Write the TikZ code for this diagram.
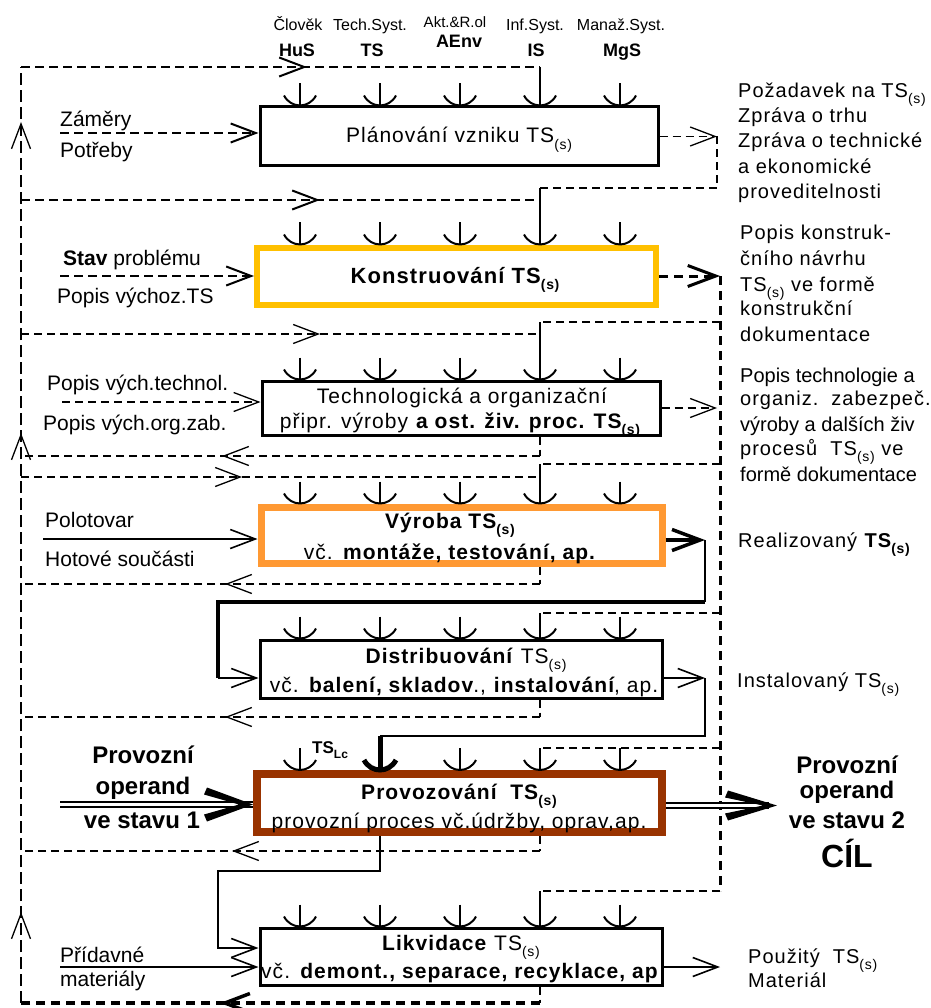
\documentclass[tikz,border=0pt]{standalone}
\usepackage{fontspec}
\setmainfont{Liberation Sans}
\newfontfamily\spaced{Liberation Sans}[LetterSpace=5]
\usetikzlibrary{arrows.meta,decorations.markings}

\definecolor{konsC}{HTML}{FFC000}
\definecolor{vyrC}{HTML}{FF9933}
\definecolor{provC}{HTML}{993300}

\newcommand\fs[1]{\fontsize{#1}{#1}\selectfont}
\newcommand\lowidx[1]{\raisebox{-0.3em}{\fontsize{14}{14}\selectfont #1}}
\newcommand\TSs{TS\lowidx{(s)}}

\tikzset{
  barbtip/.tip={Straight Barb[length=25pt,width=19pt]},
  bigbarb/.tip={Straight Barb[length=28pt,width=21pt]},
  procbox/.style={draw, rectangle, inner sep=0pt, line width=3pt},
  dthin/.style={line width=1.3pt, dash pattern=on 8pt off 5pt},
  dmed/.style={line width=2pt, dash pattern=on 9pt off 5pt},
  dthick/.style={line width=3pt, dash pattern=on 9pt off 6pt},
  dbus/.style={line width=1.3pt, dash pattern=on 12pt off 5pt},
  dbot/.style={line width=3.5pt, dash pattern=on 9pt off 6pt},
  solidc/.style={line width=1.6pt},
  arrat/.style={postaction={decorate},
    decoration={markings, mark=at position #1 with {\arrow{barbtip}}}},
  mechline/.style={line width=2pt},
  pics/mech/.style={code={
    \draw[mechline] (0,-22) -- (0,0);
    \draw[mechline] (-16,-10) .. controls (-9,3.3) and (9,3.3) .. (16,-10);}},
  ctr/.style={anchor=base, inner sep=0pt},
  ll/.style={anchor=base west, inner sep=0pt, font=\fs{21}},
  rl/.style={anchor=base west, inner sep=0pt, font=\spaced\fs{20}},
  top/.style={anchor=base, inner sep=0pt, font=\fs{16}},
  topb/.style={anchor=base, inner sep=0pt, font=\bfseries\fs{18}},
  big/.style={anchor=base, inner sep=0pt, font=\bfseries\fs{24}},
  bx/.style={font=\spaced\fs{21}},
}

\begin{document}
\begin{tikzpicture}[x=1pt,y=-1pt]
\fill[white] (0,0) rectangle (930,1008);
\useasboundingbox (0,0) rectangle (930,1008);

% process boxes
\node[procbox, minimum width=398pt, minimum height=59pt] (plan) at (459,136.5) {};
\node[procbox, draw=konsC, line width=6pt, minimum width=399pt, minimum height=57pt] (kons) at (456.5,276) {};
\node[procbox, minimum width=398pt, minimum height=54pt] (tech) at (461,408) {};
\node[procbox, draw=vyrC, line width=7pt, minimum width=401pt, minimum height=56pt] (vyr) at (461.5,535) {};
\node[procbox, minimum width=402pt, minimum height=58pt] (dist) at (461,669) {};
\node[procbox, draw=provC, line width=8pt, minimum width=405pt, minimum height=58pt] (prov) at (459.5,803) {};
\node[procbox, minimum width=402pt, minimum height=57pt] (likv) at (461,956.5) {};

% texts inside the boxes
\node[ctr, bx] (tplan) at (459,143) {Plánování vzniku \TSs};
\node[ctr, bx, font=\spaced\bfseries\fs{22}] (tkons) at (455,283) {Konstruování \TSs};
\node[ctr, bx] (ttech1) at (462,403) {Technologická a organizační};
\node[ctr, bx] (ttech2) at (460,428) {připr. výroby \textbf{a ost. živ. proc. \TSs}};
\node[ctr, bx] (tvyr1) at (450,528) {\textbf{Výroba \TSs}};
\node[ctr, bx] (tvyr2) at (450,559) {vč. \textbf{montáže, testování, ap.}};
\node[ctr, bx] (tdist1) at (466,663) {\textbf{Distribuování} \TSs};
\node[ctr, bx] (tdist2) at (464,692) {vč. \textbf{balení, skladov}., \textbf{instalování}, ap.};
\node[ctr, bx] (tprov1) at (459,799) {\textbf{Provozování\ \ \TSs}};
\node[ctr, bx] (tprov2) at (459,828) {provozní proces vč.údržby, oprav,ap.};
\node[ctr, bx] (tlikv1) at (461,950) {\textbf{Likvidace} \TSs};
\node[ctr, bx] (tlikv2) at (460,978) {vč. \textbf{demont., separace, recyklace, ap}};

% resource headings
\node[top] (h1) at (298,31) {Člověk};
\node[topb] (h1b) at (297,57) {HuS};
\node[top] (h2) at (370,31) {Tech.Syst.};
\node[topb] (h2b) at (372,57) {TS};
\node[top, font=\fs{15}] (h3) at (455,28) {Akt.\&R.ol};
\node[topb] (h3b) at (459,48) {AEnv};
\node[top] (h4) at (535,31) {Inf.Syst.};
\node[topb] (h4b) at (536,57) {IS};
\node[top] (h5) at (621,31) {Manaž.Syst.};
\node[topb] (h5b) at (622,57) {MgS};

% mechanism marks above the boxes
\foreach \x in {300,380,460,540,620} {
  \pic at (\x,0 |- plan.north) {mech};
  \pic at (\x,0 |- kons.north) {mech};
  \pic at (\x,0 |- tech.north) {mech};
  \pic at (\x,0 |- vyr.north) {mech};
  \pic at (\x,0 |- dist.north) {mech};
  \pic at (\x,0 |- likv.north) {mech};
}
\foreach \x in {300,460,540,620} \pic at (\x,0 |- prov.north) {mech};
\pic[mechline/.style={line width=5pt}] at (380,0 |- prov.north) {mech};
\node[anchor=base west, inner sep=0pt, font=\bfseries\fs{17}] (tslc) at (312,753) {TS\lowidx{\fs{12}Lc}};

% left information bus
\coordinate (bT) at (21,67);
\coordinate (bB) at (21,1003);
\coordinate (bus) at (21,0);
\draw[dbus, postaction={decorate}, decoration={markings,
   mark=at position 91pt with {\arrow{barbtip}},
   mark=at position 570pt with {\arrow{barbtip}},
   mark=at position 881pt with {\arrow{barbtip}}}] (bB) -- (bT);

% planning
\draw[dmed, arrat=286pt] (bT) -- (540,67);
\draw[solidc] (540,67) -- (540,0 |- plan.north);
\draw[dmed, -barbtip] (60,133) -- (plan.west |- 0,133);
\draw[dthin, -barbtip] (plan.east) -- (717,136.5);
\draw[dthin] (717,136.5) -- (717,188) -- (540,188);
\draw[solidc] (540,188) -- (540,0 |- kons.north);
\draw[dmed, arrat=299pt] (bus |- 0,200) -- (540,200);
\node[ll] (lz1) at (60,127) {Záměry};
\node[ll] (lz2) at (60,158) {Potřeby};

% design
\draw[dmed, -barbtip] (60,276) -- (kons.west);
\node[ll] (ls1) at (63,265) {\textbf{Stav} problému};
\node[ll] (ls2) at (57,303) {Popis výchoz.TS};
\draw[dthick, -bigbarb] (kons.east) -- (720,276);
\draw[dthick] (720,276) -- (720,891);

% technological preparation
\draw[dthin] (720,322) -- (540,322);
\draw[solidc] (540,322) -- (540,0 |- tech.north);
\draw[dthin, arrat=299pt] (bus |- 0,334) -- (540,334);
\draw[dthin, -barbtip] (62,402) -- (tech.west |- 0,402);
\node[ll] (lt1) at (47,390) {Popis vých.technol.};
\node[ll] (lt2) at (43,430) {Popis vých.org.zab.};
\draw[dthin, -barbtip] (tech.east) -- (717,408);
\draw[dthin] (540,0 |- tech.south) -- (540,456);
\draw[dthin, arrat=318pt] (540,456) -- (bus |- 0,456);

% production
\draw[dthin] (720,464) -- (540,464);
\draw[solidc] (540,464) -- (540,0 |- vyr.north);
\draw[dthin, arrat=221pt] (bus |- 0,477) -- (540,477);
\draw[solidc, -barbtip] (43,539) -- (vyr.west |- 0,539);
\node[ll] (lv1) at (45,527) {Polotovar};
\node[ll] (lv2) at (45,566) {Hotové součásti};
\draw[line width=3.5pt, -bigbarb] (vyr.east |- 0,540) -- (705,540);
\draw[line width=2pt] (705,540) -- (705,602);
\draw[line width=3.5pt] (705,602) -- (218,602) -- (218,678);
\draw[solidc, -barbtip] (218,678) -- (dist.west |- 0,678);
\draw[dthin] (540,0 |- vyr.south) -- (540,584);
\draw[dthin, arrat=315pt] (540,584) -- (bus |- 0,584);

% distribution
\draw[dthin] (720,613) -- (540,613);
\draw[solidc] (540,613) -- (540,0 |- dist.north);
\draw[solidc, -barbtip] (dist.east |- 0,678) -- (705,678);
\draw[solidc] (705,678) -- (705,736) -- (380,736);
\draw[line width=5pt] (380,736) -- (380,0 |- prov.north);
\draw[dthin] (540,0 |- dist.south) -- (540,717);
\draw[dthin, arrat=315pt] (540,717) -- (bus |- 0,717);

% operation
\draw[dthin] (720,748) -- (540,748);
\draw[solidc] (540,748) -- (540,0 |- prov.north);
\draw[double, double distance=3pt, line width=1.8pt] (60,804.5) -- (prov.west |- 0,804.5);
\fill (prov.west |- 0,804.5) -- ++(-46,-17) -- ++(-3,7) -- ++(35,10) -- ++(-35,10) -- ++(3,7) -- cycle;
\node[big] (lp1) at (143,763) {Provozní};
\node[big] (lp2) at (143,794) {operand};
\node[big] (lp3) at (142,828) {ve stavu 1};
\coordinate (goal) at (777,805.5);
\draw[double, double distance=3pt, line width=1.8pt] (prov.east |- goal) -- ([xshift=-8pt]goal);
\fill (goal) -- ++(-49,-15) -- ++(-3,7) -- ++(38,8) -- ++(-38,8) -- ++(3,7) -- cycle;
\node[big] (rp1) at (847,773) {Provozní};
\node[big] (rp2) at (847,798) {operand};
\node[big] (rp3) at (847,828) {ve stavu 2};
\node[big, font=\bfseries\fs{32}] (rp4) at (847,867) {CÍL};
\draw[solidc, -barbtip] (380,0 |- prov.south) -- (380,871) -- (218,871) |- (likv.west |- 0,948);
\draw[dthin] (540,0 |- prov.south) -- (540,851);
\draw[dthin, arrat=308pt] (540,851) -- (bus |- 0,851);

% liquidation
\draw[dthin] (720,891) -- (540,891);
\draw[solidc] (540,891) -- (540,0 |- likv.north);
\draw[solidc, -barbtip] (60,967) -- (likv.west |- 0,967);
\node[ll] (lk1) at (60,962) {Přídavné};
\node[ll] (lk2) at (60,986) {materiály};
\draw[solidc, -barbtip] (likv.east |- 0,967) -- (720,967);
\draw[dthin] (540,0 |- likv.south) -- (540,1003);
\draw[dbot, arrat=320pt] (540,1003) -- (17,1003);

% output descriptions
\node[rl] (r1) at (738,98) {Požadavek na TS\lowidx{(s)}};
\node[rl] (r2) at (738,123) {Zpráva o trhu};
\node[rl] (r3) at (738,148) {Zpráva o technické};
\node[rl] (r4) at (738,174) {a ekonomické};
\node[rl] (r5) at (738,199) {proveditelnosti};
\node[rl] (r6) at (740,240) {Popis konstruk-};
\node[rl] (r7) at (740,265) {čního návrhu};
\node[rl] (r8) at (740,291) {TS\lowidx{(s)} ve formě};
\node[rl] (r9) at (740,315) {konstrukční};
\node[rl] (r10) at (740,341) {dokumentace};
\node[rl, font=\fs{20}] (r11) at (740,382) {Popis technologie a};
\node[rl] (r12) at (740,405) {organiz.\ \ zabezpeč.};
\node[rl, font=\fs{20}] (r13) at (740,431) {výroby a dalších živ};
\node[rl] (r14) at (740,455) {procesů\ \ TS\lowidx{(s)} ve};
\node[rl, font=\fs{20}] (r15) at (740,481) {formě dokumentace};
\node[rl] (r16) at (738,547) {Realizovaný \textbf{TS\lowidx{(s)}}};
\node[rl] (r17) at (737,687) {Instalovaný TS\lowidx{(s)}};
\node[rl] (r18) at (748,963) {Použitý\ \ TS\lowidx{(s)}};
\node[rl] (r19) at (748,987) {Materiál};
\end{tikzpicture}
\end{document}
